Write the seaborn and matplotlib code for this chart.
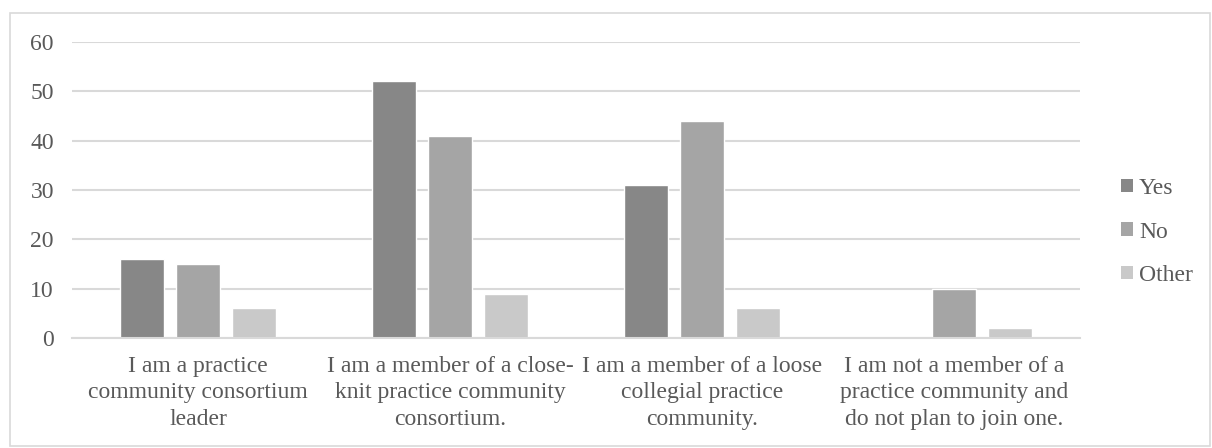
import matplotlib
matplotlib.use("Agg")
import matplotlib.pyplot as plt
import seaborn as sns
import pandas as pd
from matplotlib.patches import Rectangle, Patch

categories = [
    "I am a practice\ncommunity consortium\nleader",
    "I am a member of a close-\nknit practice community\nconsortium.",
    "I am a member of a loose\ncollegial practice\ncommunity.",
    "I am not a member of a\npractice community and\ndo not plan to join one.",
]
series_names = ["Yes", "No", "Other"]
yes_values = [16, 52, 31, 0]
no_values = [15, 41, 44, 10]
other_values = [6, 9, 6, 2]
y_ticks = [0, 10, 20, 30, 40, 50, 60]

colors = ["#878787", "#a5a5a5", "#c9c9c9"]
text_color = "#595959"
grid_color = "#d9d9d9"
font_size = 17

rows = []
for cat, y, n, o in zip(categories, yes_values, no_values, other_values):
    rows.append({"category": cat, "answer": "Yes", "count": y})
    rows.append({"category": cat, "answer": "No", "count": n})
    rows.append({"category": cat, "answer": "Other", "count": o})
df = pd.DataFrame(rows)

sns.set_theme(style="white")
plt.rcParams["font.family"] = ["Liberation Serif", "DejaVu Serif"]

fig = plt.figure(figsize=(12.12, 4.48), dpi=100)
ax = fig.add_axes([72 / 1212, 110 / 448, (1080 - 72) / 1212, (338 - 42) / 448])

sns.barplot(
    data=df, x="category", y="count", hue="answer",
    order=categories, hue_order=series_names, palette=colors,
    width=0.667, gap=0.21, saturation=1, errorbar=None, ax=ax,
    legend=False,
)

ax.set_ylim(0, 60)
ax.set_xlim(-0.5, len(categories) - 0.5)
ax.set_yticks(y_ticks)
ax.set_yticklabels([str(t) for t in y_ticks])
ax.yaxis.grid(True, color=grid_color, linewidth=1.5)
ax.set_axisbelow(True)
for side in ["top", "right", "left"]:
    ax.spines[side].set_visible(False)
ax.spines["bottom"].set_color(grid_color)
ax.spines["bottom"].set_linewidth(1.5)
ax.set_xlabel("")
ax.set_ylabel("")
ax.tick_params(axis="both", length=0, colors=text_color, labelsize=font_size)
ax.tick_params(axis="y", pad=13)
ax.tick_params(axis="x", pad=13)
for lbl in ax.get_xticklabels():
    lbl.set_linespacing(1.34)

handles = [Patch(facecolor=c, edgecolor="none") for c in colors]
leg = fig.legend(
    handles, series_names, loc="center left",
    bbox_to_anchor=(1100 / 1212, 1 - 232 / 448),
    frameon=False, fontsize=font_size, handlelength=0.5, handleheight=0.5,
    handletextpad=0.25, labelspacing=0.95,
)
for t in leg.get_texts():
    t.set_color(text_color)

fig.patches.append(Rectangle((10 / 1212, 2 / 448), 1200 / 1212, 433 / 448,
                             transform=fig.transFigure, fill=False,
                             edgecolor=grid_color, linewidth=1.2))

fig.savefig("out.png", dpi=100, facecolor="white")
